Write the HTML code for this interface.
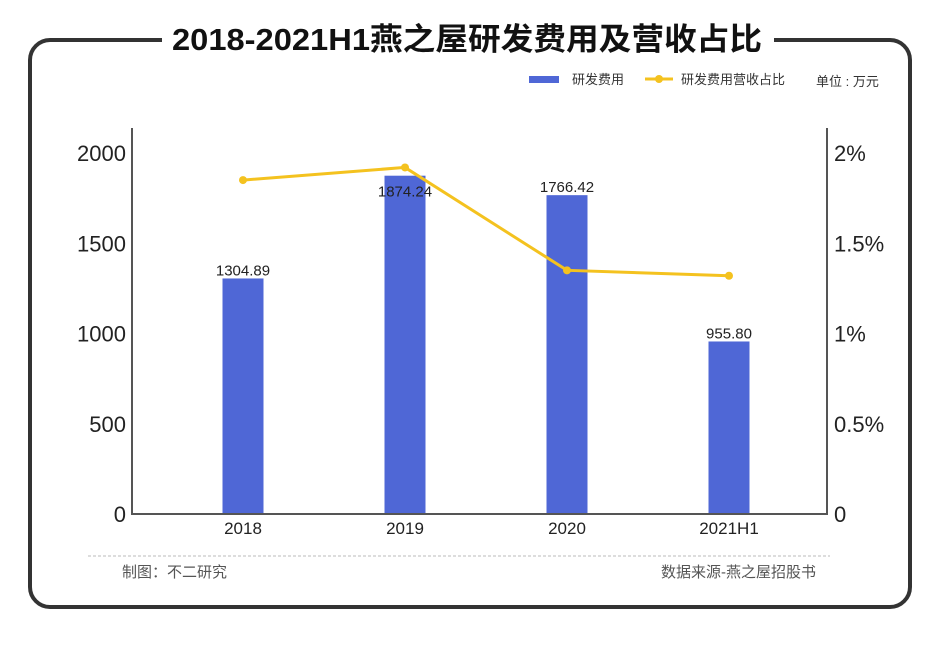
<!DOCTYPE html>
<html><head><meta charset="utf-8"><style>
body{margin:0;width:940px;height:644px;background:#fff;overflow:hidden;font-family:"Liberation Sans","Noto Sans CJK SC",sans-serif}
</style></head><body>
<svg width="940" height="644" font-family="Liberation Sans, Noto Sans CJK SC, sans-serif">
<rect x="30" y="40" width="880" height="567" rx="20" fill="none" stroke="#333" stroke-width="4"/>
<rect x="162" y="20" width="612" height="40" fill="#fff"/>
<text x="467" y="50" text-anchor="middle" font-size="31" font-weight="bold" fill="#111" textLength="590" lengthAdjust="spacingAndGlyphs">2018-2021H1燕之屋研发费用及营收占比</text>
<g>
<rect x="529" y="76" width="30" height="7" fill="#4f67d6"/>
<text x="572" y="84" font-size="13" fill="#333">研发费用</text>
<line x1="645" y1="79" x2="673" y2="79" stroke="#f4c21f" stroke-width="3"/>
<circle cx="659" cy="79" r="4" fill="#f4c21f"/>
<text x="681" y="84" font-size="13" fill="#333">研发费用营收占比</text>
<text x="816" y="86" font-size="13" fill="#333">单位 : 万元</text>
</g>
<g id="plot"></g>
<line x1="88" y1="556" x2="830" y2="556" stroke="#bbb" stroke-dasharray="3,2"/>
<text x="122" y="577" font-size="15" fill="#555">制图：不二研究</text>
<text x="816" y="577" font-size="15" fill="#555" text-anchor="end">数据来源-燕之屋招股书</text>
</svg>
<script>
const categories=["2018","2019","2020","2021H1"];
const rdCost=[1304.89,1874.24,1766.42,955.80];
const rdLabels=["1304.89","1874.24","1766.42","955.80"];
const ratio=[1.85,1.92,1.35,1.32];
const leftTicks=[0,500,1000,1500,2000];
const rightTicks=[0,0.5,1,1.5,2];
const rightTickLabels=["0","0.5%","1%","1.5%","2%"];
const NS="http://www.w3.org/2000/svg";
const g=document.getElementById('plot');
const y0=514,yTop=153;
const yL=v=>y0-(v/2000)*(y0-yTop);
const yR=v=>y0-(v/2)*(y0-yTop);
const xC=i=>162+(i+0.5)*162;
function mk(t,a){const e=document.createElementNS(NS,t);for(const k in a)e.setAttribute(k,a[k]);g.appendChild(e);return e;}
let e;
e=mk('line',{x1:132,y1:128,x2:132,y2:y0,stroke:'#555','stroke-width':2});


e=mk('line',{x1:827,y1:128,x2:827,y2:y0,stroke:'#555','stroke-width':2});


leftTicks.forEach(v=>{e=mk('text',{x:126,y:yL(v)+8,'text-anchor':'end','font-size':22,fill:'#222'});e.textContent=v;

});
rightTicks.forEach((v,i)=>{e=mk('text',{x:834,y:yR(v)+8,'font-size':22,fill:'#222'});e.textContent=rightTickLabels[i];

});
categories.forEach((c,i)=>{
e=mk('rect',{x:xC(i)-20.5,y:yL(rdCost[i]),width:41,height:y0-yL(rdCost[i]),fill:'#4f67d6'});


const inside=rdCost[i]>1800;
e=mk('text',{x:xC(i),y:inside?yL(rdCost[i])+21:yL(rdCost[i])-3,'text-anchor':'middle','font-size':15,fill:'#222'});e.textContent=rdLabels[i];


e=mk('text',{x:xC(i),y:534,'text-anchor':'middle','font-size':17,fill:'#222'});e.textContent=c;


});
e=mk('line',{x1:131,y1:y0,x2:828,y2:y0,stroke:'#555','stroke-width':2});


e=mk('polyline',{points:ratio.map((v,i)=>xC(i)+','+yR(v)).join(' '),fill:'none',stroke:'#f4c21f','stroke-width':3});


ratio.forEach((v,i)=>{e=mk('circle',{cx:xC(i),cy:yR(v),r:4,fill:'#f4c21f'});

});
</script>
</body></html>
